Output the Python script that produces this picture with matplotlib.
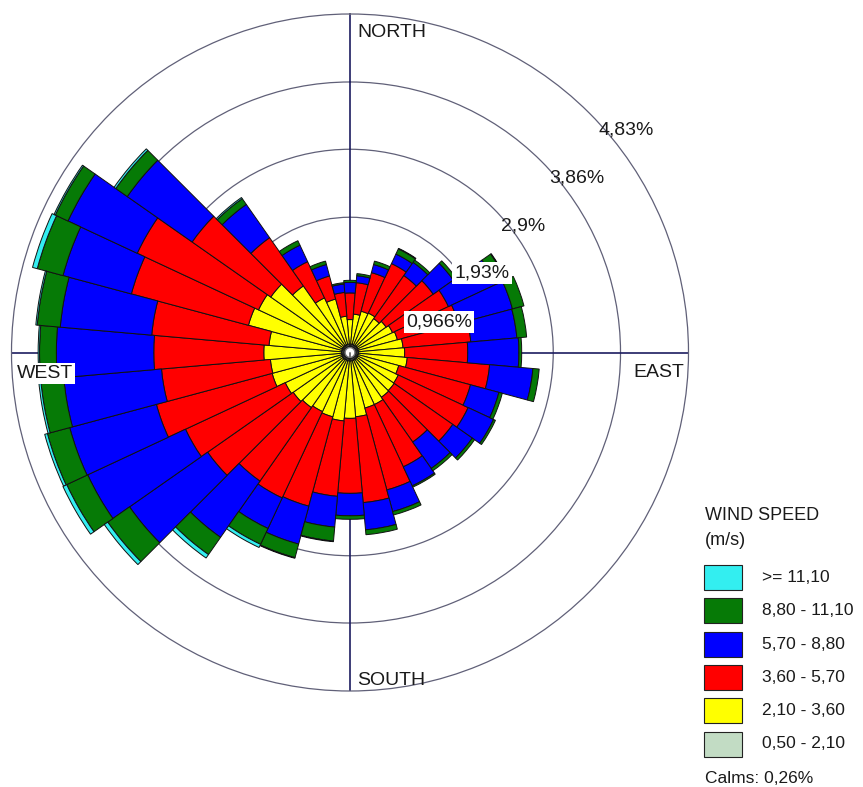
import numpy as np
import matplotlib
matplotlib.use("Agg")
import matplotlib.pyplot as plt
from matplotlib.patches import Rectangle

plt.rcParams['font.family'] = ['Liberation Sans', 'DejaVu Sans']

# ---------------- data ----------------
directions = [0, 10, 20, 30, 40, 50, 60, 70, 80, 90, 100, 110,
              120, 130, 140, 150, 160, 170, 180, 190, 200, 210, 220, 230,
              240, 250, 260, 270, 280, 290, 300, 310, 320, 330, 340, 350]

# frequency (%) per speed class and direction
spd_050_210 = [0.12, 0.12, 0.12, 0.12, 0.12, 0.12, 0.12, 0.12, 0.12, 0.12, 0.12, 0.12,
               0.12, 0.12, 0.12, 0.12, 0.12, 0.12, 0.12, 0.12, 0.12, 0.12, 0.12, 0.12,
               0.12, 0.12, 0.12, 0.12, 0.12, 0.12, 0.12, 0.12, 0.12, 0.12, 0.12, 0.12]
spd_210_360 = [0.35, 0.43, 0.49, 0.50, 0.47, 0.51, 0.55, 0.58, 0.64, 0.66, 0.70, 0.60,
               0.64, 0.65, 0.66, 0.70, 0.70, 0.80, 0.82, 0.86, 0.83, 0.81, 0.84, 0.87,
               0.90, 1.03, 1.02, 1.11, 1.04, 1.38, 1.32, 1.26, 1.04, 0.74, 0.67, 0.40]
spd_360_570 = [0.38, 0.45, 0.57, 0.78, 0.75, 0.82, 0.88, 0.90, 0.97, 0.90, 1.18, 1.06,
               1.10, 1.02, 0.78, 0.98, 1.21, 1.23, 1.07, 1.08, 1.32, 1.36, 1.28, 1.49,
               1.57, 1.71, 1.56, 1.57, 1.68, 1.73, 1.91, 1.37, 0.84, 0.57, 0.34, 0.34]
spd_570_880 = [0.15, 0.10, 0.12, 0.15, 0.23, 0.35, 0.75, 0.80, 0.66, 0.73, 0.62, 0.42,
               0.40, 0.34, 0.46, 0.30, 0.32, 0.39, 0.32, 0.44, 0.56, 0.48, 0.98, 1.36,
               1.54, 1.28, 1.40, 1.39, 1.31, 1.01, 1.09, 1.13, 0.58, 0.26, 0.17, 0.12]
spd_880_1110 = [0.03, 0.03, 0.05, 0.08, 0.04, 0.05, 0.15, 0.17, 0.14, 0.04, 0.09, 0.05,
                0.03, 0.04, 0.04, 0.02, 0.05, 0.07, 0.05, 0.20, 0.20, 0.25, 0.30, 0.38,
                0.33, 0.33, 0.33, 0.24, 0.33, 0.38, 0.20, 0.20, 0.10, 0.07, 0.05, 0.02]
spd_ge_1110 = [0.00, 0.00, 0.00, 0.01, 0.00, 0.00, 0.01, 0.00, 0.00, 0.00, 0.00, 0.00,
               0.00, 0.00, 0.00, 0.00, 0.00, 0.00, 0.00, 0.01, 0.01, 0.05, 0.06, 0.06,
               0.06, 0.04, 0.03, 0.02, 0.02, 0.07, 0.02, 0.03, 0.02, 0.00, 0.00, 0.00]

class_labels = [">= 11,10", "8,80 - 11,10", "5,70 - 8,80",
                "3,60 - 5,70", "2,10 - 3,60", "0,50 - 2,10"]
ring_values = [0.966, 1.93, 2.9, 3.86, 4.83]
ring_labels = ["0,966%", "1,93%", "2,9%", "3,86%", "4,83%"]
calms_text = "Calms: 0,26%"
calm_radius = 0.07

# ---------------- style ----------------
colors = ['#c2dcc4', '#ffff00', '#ff0000', '#0000ff', '#067a06', '#33eef0']
W, H = 863, 787
fig = plt.figure(figsize=(W / 100, H / 100), dpi=100)

cx, cy, R = 350, 352.5, 338.5


def fx(px):
    return px / W


def fy(py):
    return 1 - py / H


ax = fig.add_axes([fx(cx - R), fy(cy + R), 2 * R / W, 2 * R / H], projection='polar')
ax.set_theta_zero_location('N')
ax.set_theta_direction(-1)
ax.set_ylim(0, ring_values[-1])
ax.set_xticks([])
ax.set_yticks(ring_values[:-1])
ax.set_yticklabels([])
ax.yaxis.grid(True, color='#606078', lw=0.9)
ax.set_axisbelow(True)
ax.spines['polar'].set_color('#606078')
ax.spines['polar'].set_linewidth(0.9)

theta = np.deg2rad(directions)
width = np.deg2rad(10)
series = [spd_050_210, spd_210_360, spd_360_570, spd_570_880, spd_880_1110, spd_ge_1110]
bottom = np.zeros(len(directions))
for vals, col in zip(series, colors):
    v = np.array(vals)
    lws = np.where(v > 0, 0.7, 0.0)
    ax.bar(theta, v, width=width, bottom=bottom, color=col,
           edgecolor='#111111', linewidth=lws, zorder=3)
    bottom = bottom + v

# compass axis lines (under the bars)
for ang in [0, 90, 180, 270]:
    ax.plot([np.deg2rad(ang)] * 2, [0, ring_values[-1]], color='#1c1c60',
            lw=1.2, zorder=1.5)

# calm circle in the centre
ax.bar([0], [calm_radius], width=2 * np.pi, bottom=0, color='white',
       edgecolor='#777777', linewidth=1.0, zorder=4)

txt = '#1a1a1a'
fs = 14
# compass labels
fig.text(fx(357), fy(37), "NORTH", fontsize=fs, color=txt, va='baseline', ha='left')
fig.text(fx(357), fy(685), "SOUTH", fontsize=fs, color=txt, va='baseline', ha='left')
fig.text(fx(633), fy(377), "EAST", fontsize=fs, color=txt, va='baseline', ha='left')
fig.text(fx(17), fy(378), "WEST", fontsize=fs, color=txt, va='baseline', ha='left',
         zorder=10, bbox=dict(facecolor='white', edgecolor='none', pad=1.5))

# ring labels
ring_pos = [(439, 322), (482, 273), (523, 226), (577, 178), (626, 130)]
for (px, py), lab, boxed in zip(ring_pos, ring_labels, [True, True, False, False, False]):
    kw = dict(fontsize=fs, color=txt, ha='center', va='center', zorder=10)
    if boxed:
        kw['bbox'] = dict(facecolor='white', edgecolor='none', pad=1.5)
    fig.text(fx(px), fy(py), lab, **kw)

# legend
lfs = 12.5
fig.text(fx(705), fy(520), "WIND SPEED", fontsize=13, color=txt, va='baseline')
fig.text(fx(705), fy(545), "(m/s)", fontsize=13, color=txt, va='baseline')
legend_cols = colors[::-1]
for i, (lab, col) in enumerate(zip(class_labels, legend_cols)):
    top = 565 + 33.3 * i
    fig.add_artist(Rectangle((fx(704), fy(top + 25)), 38 / W, 25 / H,
                             transform=fig.transFigure, facecolor=col,
                             edgecolor='#222222', linewidth=0.8))
    fig.text(fx(762), fy(top + 12.5), lab, fontsize=lfs, color=txt, va='center')
fig.text(fx(705), fy(783), calms_text, fontsize=lfs, color=txt, va='baseline')

fig.savefig("out.png", dpi=100, facecolor='white')
